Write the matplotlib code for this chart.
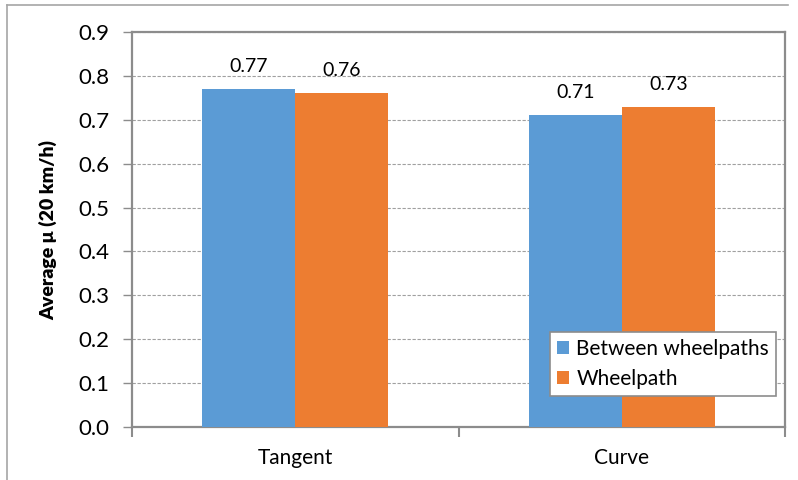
import matplotlib.pyplot as plt
import numpy as np
from matplotlib.lines import Line2D

categories = ['Tangent', 'Curve']
between = [0.77, 0.71]
wheelpath = [0.76, 0.73]
series_names = ['Between wheelpaths', 'Wheelpath']

blue = '#5B9BD5'
orange = '#ED7D31'
grey = '#8C8C8C'

plt.rcParams['font.family'] = ['Lato', 'DejaVu Sans']

W, H = 798, 480
fig = plt.figure(figsize=(W / 100, H / 100), dpi=100)
ax = fig.add_axes([132 / W, 1 - 427 / H, (785 - 132) / W, (427 - 32) / H])

x = np.arange(len(categories))
w = 0.285
b1 = ax.bar(x - w / 2, between, w, color=blue, label=series_names[0], zorder=3)
b2 = ax.bar(x + w / 2, wheelpath, w, color=orange, label=series_names[1], zorder=3)

for bars, vals in [(b1, between), (b2, wheelpath)]:
    for r, v in zip(bars, vals):
        ax.text(r.get_x() + r.get_width() / 2, v + 0.032, f'{v:.2f}',
                ha='center', va='bottom', fontsize=14)

ax.set_xlim(-0.5, 1.5)
ax.set_ylim(0, 0.9)
ax.set_yticks(np.arange(0, 0.91, 0.1))
ax.set_yticklabels([f'{t:.1f}' for t in np.arange(0, 0.91, 0.1)], fontsize=16)
ax.yaxis.grid(True, color='#A0A0A0', linestyle=(0, (3, 1.5)), linewidth=0.8, zorder=0)

# category labels centred, ticks between categories
ax.set_xticks(x)
ax.set_xticklabels(categories, fontsize=15)
ax.tick_params(axis='x', length=0, pad=15)
ax.set_xticks([-0.5, 0.5, 1.5], minor=True)
ax.tick_params(axis='x', which='minor', length=7, color=grey, width=1.5)
ax.tick_params(axis='y', length=6.5, color=grey, width=1, pad=10)

for s in ax.spines.values():
    s.set_color(grey)
    s.set_linewidth(1.6)

ax.set_ylabel('Average μ (20 km/h)', fontsize=14, fontweight='heavy', labelpad=15)

leg = ax.legend(loc='lower right', bbox_to_anchor=((776 - 132) / (785 - 132), (427 - 396) / (427 - 32)),
                fontsize=15, frameon=True, fancybox=False, edgecolor=grey, framealpha=1,
                handlelength=0.6, handleheight=0.6, handletextpad=0.35,
                labelspacing=0.5, borderpad=0.33, borderaxespad=0)
leg.get_frame().set_linewidth(1.2)

# outer chart border
fig.add_artist(Line2D([7 / W, 788 / W], [1 - 5 / H, 1 - 5 / H], color='#A6A6A6', lw=1.2))
fig.add_artist(Line2D([7 / W, 7 / W], [1 - 5 / H, 0], color='#A6A6A6', lw=1.2))

fig.savefig('out.png', dpi=100)
